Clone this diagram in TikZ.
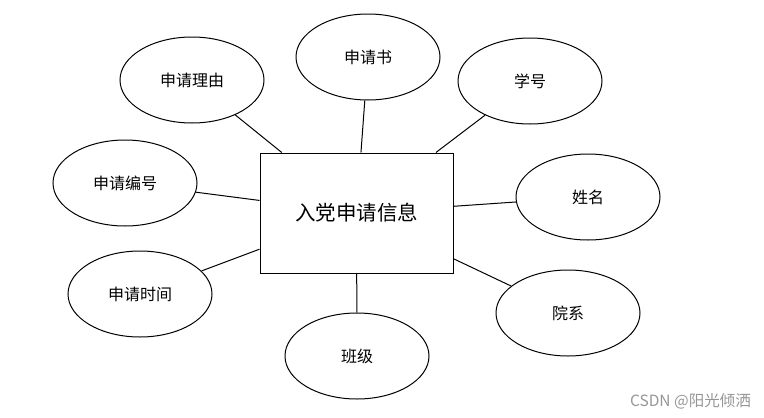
\documentclass[tikz,border=0pt]{standalone}
\usepackage{fontspec}
\setmainfont{Noto Sans CJK SC}
\usetikzlibrary{shapes.geometric}
\definecolor{wm}{RGB}{150,150,150}
\begin{document}
\begin{tikzpicture}[x=1pt,y=-1pt,
  attr/.style={draw, ellipse, line width=1pt, minimum width=144pt, minimum height=86pt, inner sep=0pt, font=\fontsize{16}{18}\selectfont},
  ent/.style={draw, rectangle, line width=1pt, minimum width=193pt, minimum height=120pt, inner sep=0pt, font=\fontsize{20.5}{24}\selectfont},
  link/.style={line width=1pt}]
\useasboundingbox (0,0) rectangle (764,418);
\node[ent] (e) at (356.5,213) {入党申请信息};
\node[attr] (a1) at (192,80) {申请理由};
\node[attr] (a2) at (368,57) {申请书};
\node[attr] (a3) at (530,81) {学号};
\node[attr] (a4) at (125,183) {申请编号};
\node[attr] (a5) at (588,197) {姓名};
\node[attr] (a6) at (140,294) {申请时间};
\node[attr] (a7) at (568,313) {院系};
\node[attr] (a8) at (357,356) {班级};
\foreach \n in {a1,a2,a3,a4,a5,a6,a7,a8} \draw[link] (\n) -- (e);
\node[text=wm, font=\fontsize{15.5}{18}\selectfont, anchor=east, inner sep=0pt] (wmk) at (751,401) {CSDN @阳光倾洒};
\end{tikzpicture}
\end{document}
